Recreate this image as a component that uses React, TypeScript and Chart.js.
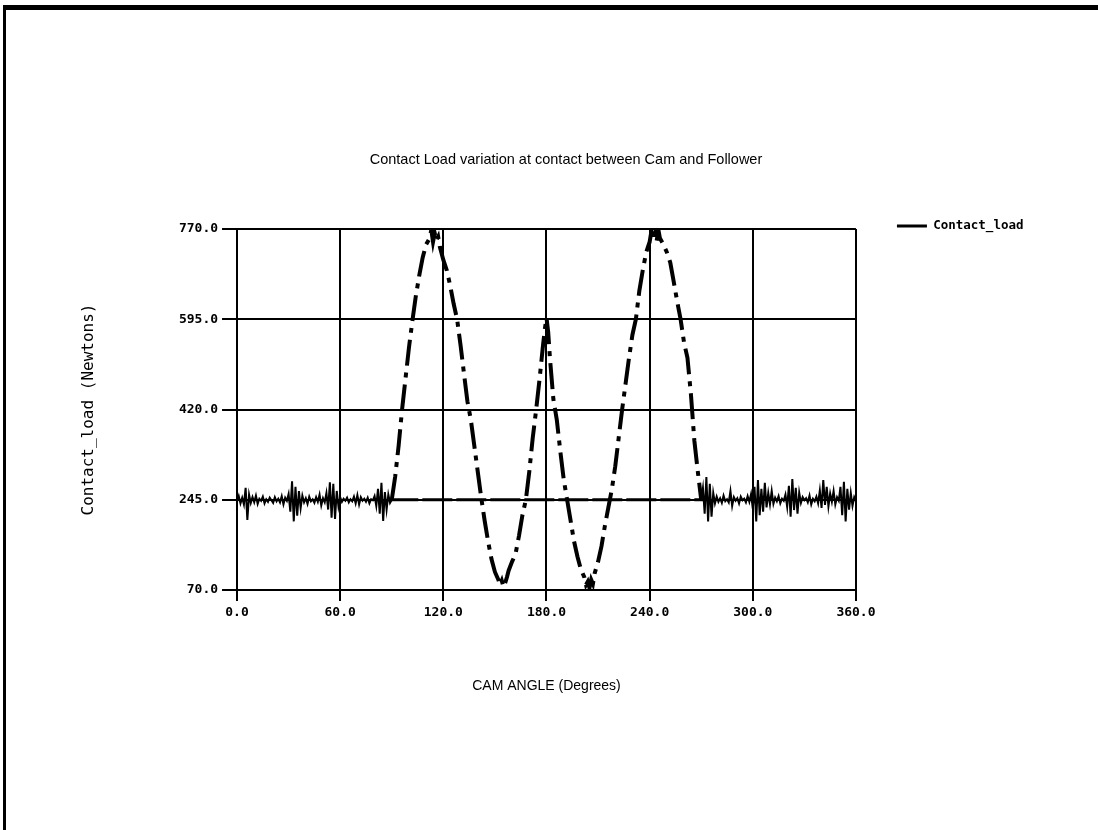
import React, { useEffect, useRef } from "react";
import { Chart, registerables } from "chart.js";

Chart.register(...registerables);

const TITLE = "Contact Load variation at contact between Cam and Follower";
const X_TITLE = "CAM ANGLE (Degrees)";
const Y_TITLE = "Contact_load (Newtons)";
const SERIES_NAME = "Contact_load";

const X_TICKS = [0, 60, 120, 180, 240, 300, 360];
const Y_TICKS = [70, 245, 420, 595, 770];

// dwell before the rise (noisy contact load around 245 N)
const DWELL_IN_ANGLES = [
  0, 1, 2, 3, 4, 5, 6, 7, 8, 9, 10, 11, 12, 13, 14, 15, 16, 17, 18, 19,
  20, 21, 22, 23, 24, 25, 26, 27, 28, 29, 30, 31, 32, 33, 34, 35, 36, 37, 38, 39,
  40, 41, 42, 43, 44, 45, 46, 47, 48, 49, 50, 51, 52, 53, 54, 55, 56, 57, 58, 59,
  60, 61, 62, 63, 64, 65, 66, 67, 68, 69, 70, 71, 72, 73, 74, 75, 76, 77, 78, 79,
  80, 81, 82, 83, 84, 85, 86, 87, 88, 89,
];
const DWELL_IN_LOAD = [
  241, 252, 238, 249, 236, 268, 206, 255, 239, 250, 240, 253, 237, 247, 243, 251, 238, 246, 241, 249,
  244, 239, 250, 242, 247, 240, 252, 236, 249, 243, 256, 222, 281, 203, 270, 214, 262, 229, 253, 240,
  248, 237, 251, 242, 246, 239, 250, 241, 255, 234, 248, 240, 258, 226, 279, 210, 276, 208, 262, 232,
  250, 241, 247, 243, 249, 240, 246, 242, 251, 238, 254, 236, 250, 243, 247, 241, 249, 238, 246, 244,
  252, 233, 266, 218, 278, 204, 260, 226, 255, 239,
];

// cam rise / fall region
const CAM_ANGLES = [
  90, 92, 94, 96, 98, 100, 102, 104, 106, 108, 110, 112, 113, 114, 115, 116, 117, 118,
  120, 122, 124, 126, 128, 130, 132, 134, 136, 138, 140, 142, 144, 146, 148, 150, 152,
  153, 154, 155, 156, 157, 158, 160, 162, 164, 166, 168, 170, 172, 174, 176, 178,
  179, 180, 181, 182, 184, 186, 188, 190, 192, 194, 196, 198, 200, 202,
  203, 204, 205, 206, 207, 208, 210, 212, 214, 216, 218, 220, 222, 224, 226, 228, 230, 232, 234, 236, 238, 240,
  241, 242, 243, 244, 245, 246, 248, 250, 252, 254, 256, 258, 260, 262, 264, 266, 268, 270,
];
const CAM_LOAD = [
  245, 290, 350, 420, 480, 540, 592, 640, 680, 715, 740, 752, 768, 745, 762, 748, 755, 735,
  710, 690, 660, 625, 595, 545, 490, 436, 400, 350, 300, 250, 205, 165, 130, 105, 90,
  80, 88, 76, 84, 95, 108, 125, 140, 175, 215, 245, 300, 365, 420, 480, 545,
  575, 598, 570, 520, 440, 400, 340, 285, 245, 205, 165, 135, 110, 95,
  80, 86, 74, 90, 82, 102, 125, 155, 195, 230, 265, 310, 365, 420, 470, 520, 565, 595, 650, 690, 725, 745,
  765, 748, 760, 745, 770, 752, 740, 725, 705, 668, 630, 595, 550, 520, 450, 360, 300, 245,
];

// dwell after the return
const DWELL_OUT_ANGLES = [
  271, 272, 273, 274, 275, 276, 277, 278, 279, 280, 281, 282, 283, 284, 285, 286, 287, 288, 289, 290,
  291, 292, 293, 294, 295, 296, 297, 298, 299, 300, 301, 302, 303, 304, 305, 306, 307, 308, 309, 310,
  311, 312, 313, 314, 315, 316, 317, 318, 319, 320, 321, 322, 323, 324, 325, 326, 327, 328, 329, 330,
  331, 332, 333, 334, 335, 336, 337, 338, 339, 340, 341, 342, 343, 344, 345, 346, 347, 348, 349, 350,
  351, 352, 353, 354, 355, 356, 357, 358, 359, 360,
];
const DWELL_OUT_LOAD = [
  268, 218, 289, 203, 276, 212, 258, 238, 251, 241, 248, 239, 253, 242, 246, 240, 262, 233, 250, 243,
  248, 238, 251, 244, 247, 240, 252, 241, 256, 228, 270, 203, 283, 215, 266, 222, 278, 230, 258, 236,
  262, 237, 249, 242, 252, 238, 247, 243, 255, 231, 272, 212, 285, 225, 268, 218, 259, 239, 250, 244,
  248, 240, 253, 236, 247, 242, 251, 238, 263, 229, 283, 235, 270, 232, 257, 241, 262, 236, 250, 243,
  270, 215, 280, 203, 266, 226, 258, 233, 250, 242,
];

// constant base-circle load line
const BASE_ANGLES = [88, 272];
const BASE_LOAD = [245, 245];

const MONO = "'DejaVu Sans Mono', monospace";
const SANS = "'Liberation Sans', Arial, sans-serif";

const fmt = (v: number | string) => Number(v).toFixed(1);

const framePlugin = {
  id: "frame",
  beforeDraw(chart: any) {
    const { ctx, width, height } = chart;
    ctx.save();
    ctx.fillStyle = "#ffffff";
    ctx.fillRect(0, 0, width, height);
    ctx.fillStyle = "#000000";
    ctx.fillRect(3, 5, width - 3, 5);
    ctx.fillRect(3, 5, 3, height - 5);
    ctx.restore();
  },
};

export default function App() {
  const ref = useRef<HTMLCanvasElement | null>(null);

  useEffect(() => {
    if (!ref.current) return;
    const toPts = (xs: number[], ys: number[]) => xs.map((x, i) => ({ x, y: ys[i] }));
    const mainPts = [
      ...toPts(DWELL_IN_ANGLES, DWELL_IN_LOAD),
      ...toPts(CAM_ANGLES, CAM_LOAD),
      ...toPts(DWELL_OUT_ANGLES, DWELL_OUT_LOAD),
    ];
    const inCam = (c: any) => c.p0.parsed.x >= 89.5 && c.p1.parsed.x <= 270.5;

    const chart = new Chart(ref.current, {
      type: "line",
      data: {
        datasets: [
          {
            label: SERIES_NAME,
            data: mainPts,
            borderColor: "#000",
            backgroundColor: "#000",
            borderWidth: 2,
            pointRadius: 0,
            tension: 0,
            fill: false,
            segment: {
              borderDash: (c: any) => (inCam(c) ? [26, 7, 5, 7] : []),
              borderWidth: (c: any) => (inCam(c) ? 4 : 2),
            },
          } as any,
          {
            label: "base",
            data: toPts(BASE_ANGLES, BASE_LOAD),
            borderColor: "#000",
            borderWidth: 3,
            borderDash: [30, 4],
            pointRadius: 0,
            fill: false,
          },
        ],
      },
      options: {
        responsive: false,
        animation: false,
        devicePixelRatio: 1,
        layout: { padding: { top: 0, left: 98.5, right: 64.5, bottom: 10 } },
        plugins: {
          title: {
            display: true,
            text: TITLE,
            color: "#000",
            font: { family: SANS, size: 14.5, weight: "normal" },
            padding: { top: 151.3, bottom: 60.3 },
          },
          legend: {
            display: true,
            position: "right",
            align: "start",
            title: { display: true, text: "", font: { size: 12 }, padding: { top: 164.35, bottom: 0 } },
            labels: {
              color: "#000",
              boxWidth: 30,
              boxHeight: 3,
              padding: 41,
              font: { family: MONO, size: 12.5, weight: "bold" },
              generateLabels: () => [
                {
                  text: SERIES_NAME,
                  fillStyle: "#000",
                  strokeStyle: "#000",
                  fontColor: "#000",
                  lineWidth: 0,
                  lineDash: [],
                  hidden: false,
                  datasetIndex: 0,
                },
              ],
            },
          },
          tooltip: { enabled: false },
        },
        scales: {
          x: {
            type: "linear",
            min: 0,
            max: 360,
            afterBuildTicks: (s: any) => {
              s.ticks = X_TICKS.map((v) => ({ value: v }));
            },
            ticks: {
              color: "#000",
              font: { family: MONO, size: 13, weight: "bold" },
              padding: 4,
              autoSkip: false,
              maxRotation: 0,
              callback: (v: any) => fmt(v),
            },
            grid: { color: "#000", lineWidth: 2, tickLength: 11, tickColor: "#000" },
            border: { color: "#000", width: 2 },
            title: {
              display: true,
              text: X_TITLE,
              color: "#000",
              font: { family: SANS, size: 14, weight: "normal" },
              padding: { top: 53, bottom: 125.6 },
            },
          },
          y: {
            type: "linear",
            min: 70,
            max: 770,
            afterBuildTicks: (s: any) => {
              s.ticks = Y_TICKS.map((v) => ({ value: v }));
            },
            ticks: {
              color: "#000",
              font: { family: MONO, size: 13, weight: "bold" },
              padding: 4,
              callback: (v: any) => fmt(v),
            },
            grid: { color: "#000", lineWidth: 2, tickLength: 15, tickColor: "#000" },
            border: { color: "#000", width: 2 },
            title: {
              display: true,
              text: Y_TITLE,
              color: "#000",
              font: { family: MONO, size: 16, weight: "normal" },
              padding: { top: -19.1, bottom: 76.3 },
            },
          },
        },
      },
      plugins: [framePlugin],
    });
    return () => chart.destroy();
  }, []);

  return (
    <div style={{ position: "fixed", left: 0, top: 0, width: 1098, height: 830, background: "#fff" }}>
      <canvas ref={ref} width={1098} height={830} />
    </div>
  );
}
